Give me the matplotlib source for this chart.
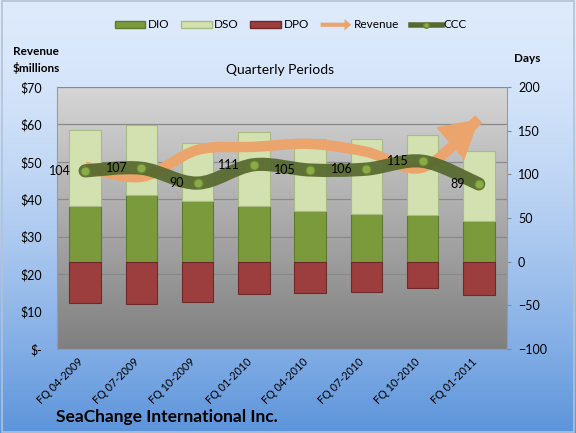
import numpy as np
import matplotlib
matplotlib.use('Agg')
import matplotlib.pyplot as plt
import matplotlib.patches as mpatches
from matplotlib.path import Path
from matplotlib.lines import Line2D
from matplotlib.legend_handler import HandlerPatch

quarters = ['FQ 04-2009', 'FQ 07-2009', 'FQ 10-2009', 'FQ 01-2010',
            'FQ 04-2010', 'FQ 07-2010', 'FQ 10-2010', 'FQ 01-2011']
dio = [64, 76, 69, 64, 58, 55, 53, 47]
dso = [87, 80, 67, 84, 83, 86, 92, 80]
dpo = [47, 49, 46, 37, 36, 35, 30, 38]
ccc = [104, 107, 90, 111, 105, 106, 115, 89]
revenue = [48.7, 46.0, 53.2, 54.0, 54.8, 52.7, 48.5, 61.4]

c_dio = '#7b9a3c'
c_dso = '#d3e1b0'
c_dpo = '#9c3e3e'
c_rev = '#eaa46c'
c_ccc = '#56692e'


def smooth_path(x, y):
    # Excel-like smoothed line as cubic bezier segments
    pts = np.column_stack([x, y]).astype(float)
    n = len(pts)
    verts = [pts[0]]
    codes = [Path.MOVETO]
    for i in range(n - 1):
        p0 = pts[max(i - 1, 0)]
        p1 = pts[i]
        p2 = pts[i + 1]
        p3 = pts[min(i + 2, n - 1)]
        verts += [p1 + (p2 - p0) / 6, p2 - (p3 - p1) / 6, p2]
        codes += [Path.CURVE4] * 3
    return Path(verts, codes)


def arrow_handle(legend, orig_handle, xdescent, ydescent, width, height, fontsize):
    return mpatches.FancyArrow(0, height / 2, width, 0, width=height * 0.55,
                               head_width=height * 1.5, head_length=height * 0.9,
                               length_includes_head=True, color=c_rev, lw=0)


plt.rcParams['font.family'] = ['Lato', 'DejaVu Sans']

fig = plt.figure(figsize=(5.76, 4.33), dpi=100)

# figure background gradient
bg = fig.add_axes([0, 0, 1, 1], zorder=-10)
t = np.linspace(0, 1, 256)[:, None] ** 1.6
top = np.array([0.87, 0.92, 0.99])
bottom = np.array([0.36, 0.58, 0.86])
img = (top * (1 - t) + bottom * t)[:, None, :]
bg.imshow(img, aspect='auto', extent=[0, 1, 0, 1])
bg.set_xlim(0, 1)
bg.set_ylim(0, 1)
bg.axis('off')
fig.patches.append(mpatches.Rectangle((0.003, 0.003), 0.994, 0.994, transform=fig.transFigure,
                                      fill=False, ec='#b5c2d3', lw=1.2))

x = np.arange(len(quarters))

ax = fig.add_axes([0.099, 0.194, 0.781, 0.605])
ax.set_xlim(-0.5, 7.5)
ax.set_ylim(0, 70)
g = np.linspace(0, 1, 256)[:, None]
gray = (0.84 * (1 - g) + 0.50 * g)
ax.imshow(np.repeat(gray[:, :, None], 3, axis=2), aspect='auto',
          extent=[-0.5, 7.5, 0, 70], zorder=-1)
ax.set_yticks(range(0, 71, 10))
ax.set_yticklabels(['$-'] + [f'${v}' for v in range(10, 71, 10)], fontsize=9)
ax.yaxis.grid(True, color='#8a8a8a', lw=0.9)
ax.set_axisbelow(True)
ax.tick_params(axis='y', length=0, pad=11)
ax.set_xticks(x)
ax.set_xticklabels(quarters, rotation=45, ha='right', fontsize=7.8)
ax.tick_params(axis='x', length=0, pad=5)
for s in ['left', 'bottom']:
    ax.spines[s].set_color('#9a9a9a')
ax.spines['top'].set_visible(False)
ax.spines['right'].set_visible(False)

ax2 = ax.twinx()
ax2.set_ylim(-100, 200)
ax2.set_yticks(range(-100, 201, 50))
ax2.tick_params(axis='y', length=3, pad=5, labelsize=9, color='#8a8a8a')
for s in ['left', 'bottom', 'top']:
    ax2.spines[s].set_visible(False)
ax2.spines['right'].set_color('#9a9a9a')

w = 0.56
ax2.bar(x, dio, width=w, color=c_dio, edgecolor='#5f7a2a', lw=0.8, zorder=2)
ax2.bar(x, dso, width=w, bottom=dio, color=c_dso, edgecolor='#a9bc84', lw=0.8, zorder=2)
ax2.bar(x, [-v for v in dpo], width=w, color=c_dpo, edgecolor='#6e2a2a', lw=0.8, zorder=2)

# revenue line (left scale) with arrow head
rev_path = smooth_path(x, revenue)
ax2.add_patch(mpatches.PathPatch(rev_path, transform=ax.transData, fill=False,
                                 ec=c_rev, lw=7.5, capstyle='butt', zorder=3))
head_from = rev_path.vertices[-2]
head = mpatches.FancyArrowPatch(posA=tuple(head_from), posB=(x[-1], revenue[-1]),
                                arrowstyle='-|>,head_length=2.7,head_width=1.55',
                                mutation_scale=10, transform=ax.transData,
                                fc=c_rev, ec=c_rev, lw=0, shrinkA=0, shrinkB=0, zorder=3)
ax2.add_patch(head)

# cash conversion cycle (right scale)
ax2.add_patch(mpatches.PathPatch(smooth_path(x, ccc), fill=False, ec=c_ccc, alpha=0.93,
                                 lw=9.5, capstyle='round', joinstyle='round', zorder=4))
ax2.plot(x, ccc, 'o', ms=6.5, mfc='#8aab48', mec='#6a8530', mew=0.8, zorder=5)
for xi, v in zip(x, ccc):
    ax2.annotate(str(v), (xi, v), xytext=(-10, 0), textcoords='offset points',
                 ha='right', va='center', fontsize=9, zorder=6)

handles = [mpatches.Patch(fc=c_dio, ec='#5f7a2a'),
           mpatches.Patch(fc=c_dso, ec='#a9bc84'),
           mpatches.Patch(fc=c_dpo, ec='#6e2a2a'),
           mpatches.Patch(fc=c_rev),
           Line2D([], [], color=c_ccc, lw=4, marker='o', ms=4, mfc='#8aab48', mec='#6a8530')]
fig.legend(handles, ['DIO', 'DSO', 'DPO', 'Revenue', 'CCC'], loc='center',
           bbox_to_anchor=(0.505, 1 - 25 / 433), ncol=5, frameon=False, fontsize=8.5,
           handlelength=2.6, handleheight=0.6, columnspacing=1.0, handletextpad=0.2,
           handler_map={handles[3]: HandlerPatch(patch_func=arrow_handle)})

fig.text(36 / 576, 1 - 60 / 433, 'Revenue\n$millions', ha='center', va='center',
         fontsize=8.5, fontweight='bold', linespacing=1.5)
fig.text(527 / 576, 1 - 58 / 433, 'Days', ha='center', va='center',
         fontsize=8.5, fontweight='bold')
fig.text(280 / 576, 1 - 70 / 433, 'Quarterly Periods', ha='center', va='center', fontsize=10)
fig.text(56 / 576, 1 - 417 / 433, 'SeaChange International Inc.', ha='left', va='center',
         fontsize=12.5, fontweight='bold')

fig.savefig('out.png', dpi=100)
